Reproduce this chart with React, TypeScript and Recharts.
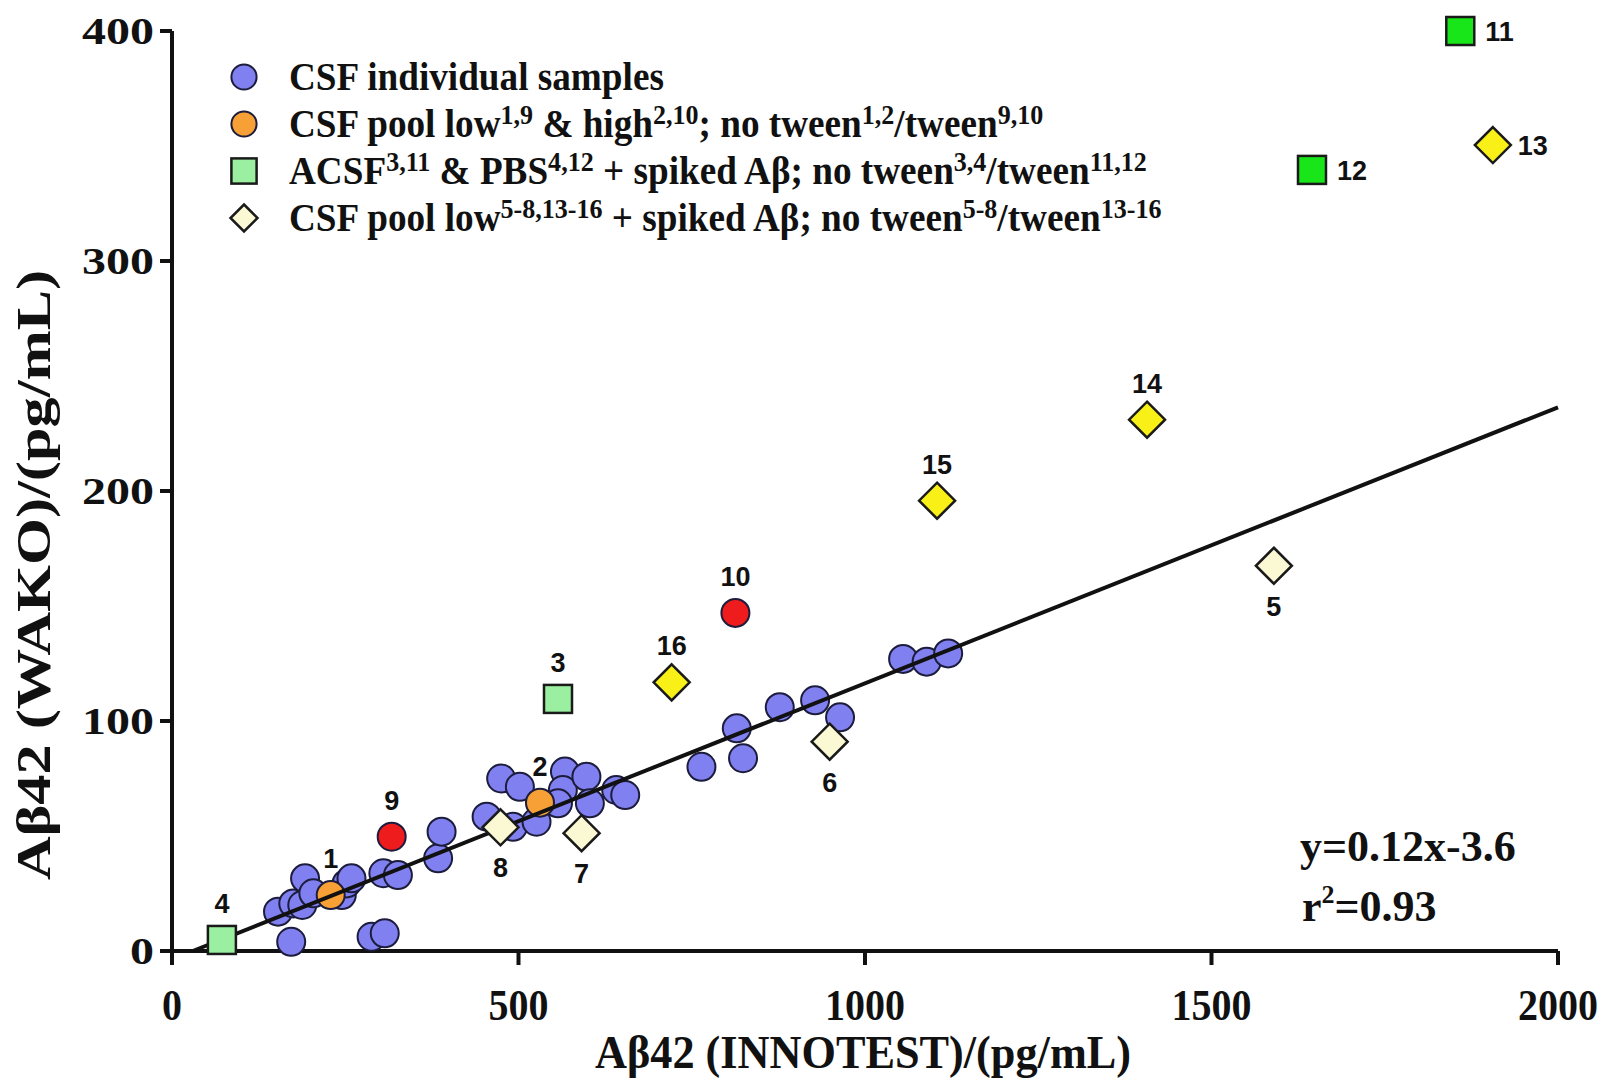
import React from "react";
import { ScatterChart, Scatter, XAxis, YAxis, Legend } from "recharts";

const X_TICKS = [0, 500, 1000, 1500, 2000];
const Y_TICKS = [0, 100, 200, 300, 400];

// CSF individual samples (INNOTEST vs WAKO, pg/mL)
const INDIVIDUAL_X = [
  172, 288, 307, 153, 175, 188, 192, 204, 245, 252, 259, 305, 326, 384, 389, 454, 492, 475,
  502, 526, 567, 564, 598, 603, 557, 641, 654, 764, 815, 824, 877, 928, 964, 1055, 1089, 1120,
];
const INDIVIDUAL_Y = [
  4, 6.2, 7.7, 17.1, 20.7, 20, 31.6, 25.1, 24.3, 29.4, 31.6, 33.8, 33, 40.3, 51.9, 58.4, 54, 75,
  71.4, 56.2, 78, 70, 75.8, 64.2, 64.2, 70, 67.8, 80.1, 96.8, 83.8, 106, 109, 101.6, 127, 125.8, 129.4,
];

// CSF pool low/high, no tween (1,2) and tween (9,10)
const POOL_IDS = ["1", "2"];
const POOL_X = [229, 531];
const POOL_Y = [24.3, 64.5];
const POOL_TWEEN_IDS = ["9", "10"];
const POOL_TWEEN_X = [317, 813];
const POOL_TWEEN_Y = [49.7, 147];

// ACSF & PBS + spiked Abeta, no tween (3,4) and tween (11,12)
const BUFFER_IDS = ["3", "4"];
const BUFFER_X = [557, 72];
const BUFFER_Y = [109.6, 4.8];
const BUFFER_TWEEN_IDS = ["11", "12"];
const BUFFER_TWEEN_X = [1859, 1645];
const BUFFER_TWEEN_Y = [400, 339.6];

// CSF pool low + spiked Abeta, no tween (5-8) and tween (13-16)
const SPIKED_IDS = ["5", "6", "7", "8"];
const SPIKED_X = [1590, 949, 591, 474];
const SPIKED_Y = [167.5, 91, 51.2, 53.8];
const SPIKED_TWEEN_IDS = ["13", "14", "15", "16"];
const SPIKED_TWEEN_X = [1906, 1407, 1104, 721];
const SPIKED_TWEEN_Y = [350.4, 231, 195.8, 116.8];

// linear fit y = 0.12x - 3.6
const FIT_SLOPE = 0.12;
const FIT_INTERCEPT = -3.6;
const FIT_X = [30, 2000];

const LABEL_BELOW = ["5", "6", "7", "8"];
const LABEL_RIGHT = ["11", "12", "13"];

const SERIF = "'Liberation Serif', 'Times New Roman', serif";
const SANS = "'Liberation Sans', Arial, sans-serif";

const toPoints = (xs: number[], ys: number[], ids?: string[]) =>
  xs.map((x, i) => ({ x, y: ys[i], id: ids ? ids[i] : "" }));

const individual = toPoints(INDIVIDUAL_X, INDIVIDUAL_Y);
const pool = toPoints(POOL_X, POOL_Y, POOL_IDS);
const poolTween = toPoints(POOL_TWEEN_X, POOL_TWEEN_Y, POOL_TWEEN_IDS);
const buffer = toPoints(BUFFER_X, BUFFER_Y, BUFFER_IDS);
const bufferTween = toPoints(BUFFER_TWEEN_X, BUFFER_TWEEN_Y, BUFFER_TWEEN_IDS);
const spiked = toPoints(SPIKED_X, SPIKED_Y, SPIKED_IDS);
const spikedTween = toPoints(SPIKED_TWEEN_X, SPIKED_TWEEN_Y, SPIKED_TWEEN_IDS);
const fit = FIT_X.map((x) => ({ x, y: FIT_SLOPE * x + FIT_INTERCEPT }));

type Kind = "circle" | "square" | "diamond";

function Mark({ kind, fill, cx, cy, size = 1 }: { kind: Kind; fill: string; cx: number; cy: number; size?: number }) {
  if (kind === "circle") {
    return <circle cx={cx} cy={cy} r={14 * size} fill={fill} stroke="#1c1c3c" strokeWidth={2} />;
  }
  if (kind === "square") {
    const h = 14 * size;
    return <rect x={cx - h} y={cy - h} width={h * 2} height={h * 2} fill={fill} stroke="#1a1a1a" strokeWidth={2.5} />;
  }
  const d = 18 * size;
  return (
    <polygon
      points={`${cx},${cy - d} ${cx + d},${cy} ${cx},${cy + d} ${cx - d},${cy}`}
      fill={fill}
      stroke="#1a1a1a"
      strokeWidth={2.5}
    />
  );
}

const makeShape = (kind: Kind, fill: string) => (props: any) => {
  const { cx, cy, payload } = props;
  const id: string = payload?.id || "";
  let label = null;
  if (id) {
    let tx = cx;
    let ty = cy - 27;
    let anchor: "middle" | "start" = "middle";
    if (LABEL_BELOW.includes(id)) ty = cy + 50;
    if (LABEL_RIGHT.includes(id)) {
      tx = cx + 25;
      ty = cy + 10;
      anchor = "start";
    }
    label = (
      <text x={tx} y={ty} textAnchor={anchor} fontFamily={SANS} fontWeight="bold" fontSize={27} fill="#111">
        {id}
      </text>
    );
  }
  return (
    <g>
      <Mark kind={kind} fill={fill} cx={cx} cy={cy} />
      {label}
    </g>
  );
};

const XTick = ({ x, y, payload }: any) => {
  const s = String(payload.value);
  return (
    <text
      x={x}
      y={y + 55}
      textAnchor="middle"
      fontFamily={SERIF}
      fontWeight="bold"
      fontSize={44}
      textLength={s.length * 20}
      lengthAdjust="spacingAndGlyphs"
      fill="#111"
    >
      {s}
    </text>
  );
};

const YTick = ({ x, y, payload }: any) => {
  const s = String(payload.value);
  return (
    <text
      x={x}
      y={y + 13}
      textAnchor="end"
      fontFamily={SERIF}
      fontWeight="bold"
      fontSize={38}
      textLength={s.length * 24}
      lengthAdjust="spacingAndGlyphs"
      fill="#111"
    >
      {s}
    </text>
  );
};

const XTitle = () => (
  <text
    x={855}
    y={1060}
    textAnchor="middle"
    fontFamily={SERIF}
    fontWeight="bold"
    fontSize={46}
    textLength={536}
    lengthAdjust="spacingAndGlyphs"
    fill="#111"
  >
    Aβ42 (INNOTEST)/(pg/mL)
  </text>
);

const YTitle = () => (
  <text
    x={42}
    y={567}
    transform="rotate(-90, 42, 567)"
    textAnchor="middle"
    fontFamily={SERIF}
    fontWeight="bold"
    fontSize={48}
    textLength={610}
    lengthAdjust="spacingAndGlyphs"
    fill="#111"
  >
    Aβ42 (WAKO)/(pg/mL)
  </text>
);

const Sup = ({ children }: { children: React.ReactNode }) => (
  <span style={{ fontSize: 28, position: "relative", top: -13, lineHeight: "20px" }}>{children}</span>
);

const LEGEND_ROWS: { kind: Kind; fill: string; text: React.ReactNode }[] = [
  { kind: "circle", fill: "#8080f0", text: <>CSF individual samples</> },
  {
    kind: "circle",
    fill: "#f7a035",
    text: (
      <>
        CSF pool low<Sup>1,9</Sup> &amp; high<Sup>2,10</Sup>; no tween<Sup>1,2</Sup>/tween<Sup>9,10</Sup>
      </>
    ),
  },
  {
    kind: "square",
    fill: "#9af0a0",
    text: (
      <>
        ACSF<Sup>3,11</Sup> &amp; PBS<Sup>4,12</Sup> + spiked Aβ; no tween<Sup>3,4</Sup>/tween<Sup>11,12</Sup>
      </>
    ),
  },
  {
    kind: "diamond",
    fill: "#fbf8d4",
    text: (
      <>
        CSF pool low<Sup>5-8,13-16</Sup> + spiked Aβ; no tween<Sup>5-8</Sup>/tween<Sup>13-16</Sup>
      </>
    ),
  },
];

const renderLegend = () => (
  <div style={{ width: 955, overflow: "hidden", whiteSpace: "nowrap" }}>
    {LEGEND_ROWS.map((row, i) => (
      <div key={i} style={{ display: "flex", alignItems: "center", height: 47 }}>
        <svg width={36} height={40} style={{ flex: "none" }}>
          <Mark kind={row.kind} fill={row.fill} cx={18} cy={20} size={row.kind === "diamond" ? 0.75 : 0.9} />
        </svg>
        <span
          style={{
            marginLeft: 27,
            fontFamily: SERIF,
            fontWeight: "bold",
            fontSize: 40,
            lineHeight: "40px",
            color: "#111",
            display: "inline-block",
            transform: "scaleX(0.93)",
            transformOrigin: "left center",
          }}
        >
          {row.text}
        </span>
      </div>
    ))}
  </div>
);

export default function App() {
  return (
    <div style={{ position: "relative", width: 1600, height: 1072, background: "#fff" }}>
      <ScatterChart width={1600} height={1072} margin={{ top: 23, right: 50, bottom: 0, left: 0 }}>
        <XAxis
          type="number"
          dataKey="x"
          domain={[0, 2000]}
          ticks={X_TICKS}
          height={129}
          tickSize={14}
          tickMargin={0}
          tick={<XTick />}
          axisLine={{ stroke: "#111", strokeWidth: 4 }}
          tickLine={{ stroke: "#111", strokeWidth: 4 }}
          label={{ content: <XTitle /> }}
        />
        <YAxis
          type="number"
          dataKey="y"
          domain={[0, 400]}
          ticks={Y_TICKS}
          width={164}
          tickSize={12}
          tickMargin={6}
          tick={<YTick />}
          axisLine={{ stroke: "#111", strokeWidth: 4 }}
          tickLine={{ stroke: "#111", strokeWidth: 4 }}
          label={{ content: <YTitle /> }}
        />
        <Legend
          layout="horizontal"
          verticalAlign="middle"
          align="center"
          content={renderLegend}
          wrapperStyle={{ position: "absolute", top: 45, left: 218, width: 955 }}
        />
        <Scatter name="CSF individual samples" data={individual} shape={makeShape("circle", "#8080f0")} isAnimationActive={false} />
        <Scatter name="CSF pool" data={pool} shape={makeShape("circle", "#f7a035")} isAnimationActive={false} />
        <Scatter name="CSF pool tween" data={poolTween} shape={makeShape("circle", "#ee1c1c")} isAnimationActive={false} />
        <Scatter
          name="fit"
          data={fit}
          line={{ stroke: "#111", strokeWidth: 4 }}
          shape={() => <g />}
          isAnimationActive={false}
        />
        <Scatter name="ACSF & PBS" data={buffer} shape={makeShape("square", "#9af0a0")} isAnimationActive={false} />
        <Scatter name="ACSF & PBS tween" data={bufferTween} shape={makeShape("square", "#19e619")} isAnimationActive={false} />
        <Scatter name="CSF spiked" data={spiked} shape={makeShape("diamond", "#fbf8d4")} isAnimationActive={false} />
        <Scatter name="CSF spiked tween" data={spikedTween} shape={makeShape("diamond", "#f8f016")} isAnimationActive={false} />
      </ScatterChart>
      <svg width={1600} height={1072} style={{ position: "absolute", left: 0, top: 0, pointerEvents: "none" }}>
        <text x={1292} y={853} fontFamily={SERIF} fontWeight="bold" fontSize={44} fill="#111">
          y=0.12x-3.6
        </text>
        <text x={1294} y={913} fontFamily={SERIF} fontWeight="bold" fontSize={44} fill="#111">
          r<tspan dy={-18} fontSize={26}>2</tspan>
          <tspan dy={18}>=0.93</tspan>
        </text>
      </svg>
    </div>
  );
}
